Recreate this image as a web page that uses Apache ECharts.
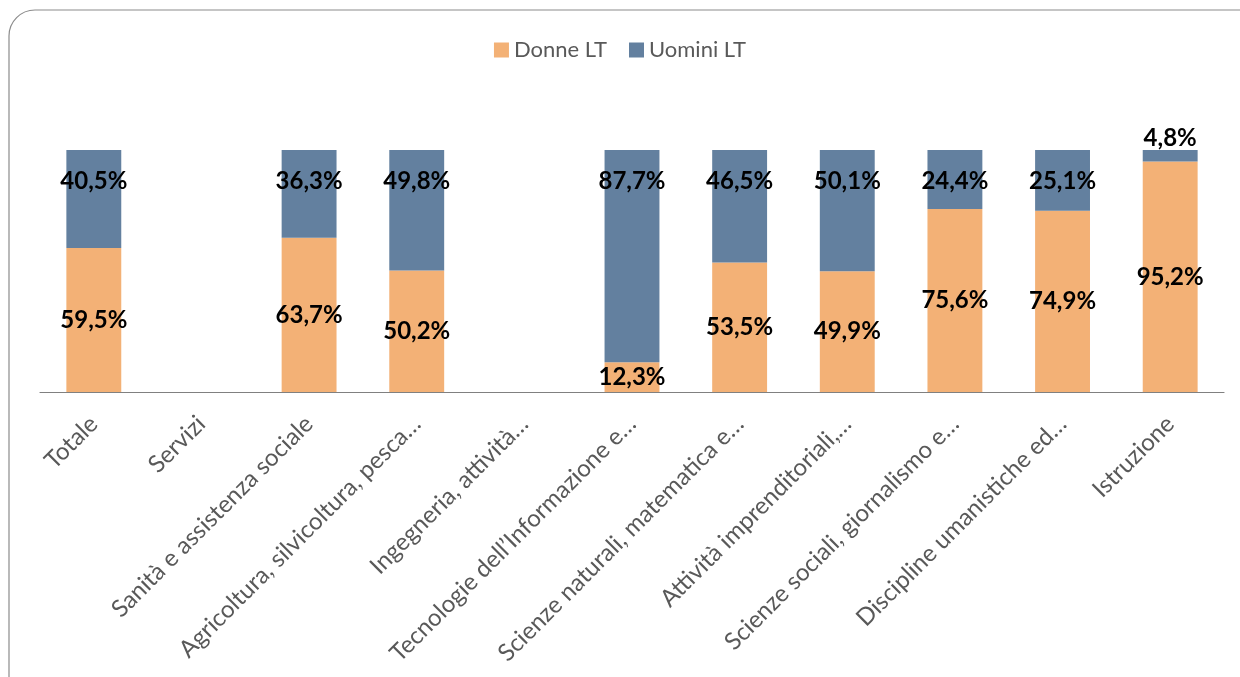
<!DOCTYPE html>
<html>
<head>
<meta charset="utf-8">
<script src="https://cdn.jsdelivr.net/npm/echarts@6/dist/echarts.min.js"></script>
<style>
  html, body { margin: 0; padding: 0; background: #fff; }
  #chart { width: 1240px; height: 677px; }
</style>
</head>
<body>
<div id="chart"></div>
<script>
const categories = [
    'Totale',
    'Servizi',
    'Sanità e assistenza sociale',
    'Agricoltura, silvicoltura, pesca…',
    'Ingegneria, attività…',
    'Tecnologie dell’Informazione e…',
    'Scienze naturali, matematica e…',
    'Attività imprenditoriali,…',
    'Scienze sociali, giornalismo e…',
    'Discipline umanistiche ed…',
    'Istruzione',
];
const donne = [59.5, null, 63.7, 50.2, null, 12.3, 53.5, 49.9, 75.6, 74.9, 95.2];
const uomini = [40.5, null, 36.3, 49.8, null, 87.7, 46.5, 50.1, 24.4, 25.1, 4.8];

const fontFamily = 'Lato, "Noto Sans", sans-serif';
const pct = (p) => p.value.toFixed(1).replace('.', ',') + '%';

const labelStyle = {
    show: true,
    formatter: pct,
    color: '#000',
    fontWeight: 'bold',
    fontSize: 24,
    fontFamily: fontFamily,
};

const option = {
    animation: false,
    graphic: [
        {
            type: 'rect',
            shape: { x: 9, y: 10, width: 1280, height: 720, r: 26 },
            style: { fill: 'none', stroke: '#8c8c8c', lineWidth: 1.2 },
            z: -1,
        },
    ],
    legend: {
        top: 34,
        left: 'center',
        itemWidth: 15,
        itemHeight: 15,
        itemGap: 22,
        itemTextGap: 4,
        icon: 'rect',
        textStyle: { color: '#595959', fontSize: 22, fontFamily: fontFamily },
    },
    grid: {
        left: 40,
        right: 16,
        top: 150,
        bottom: 285,
        containLabel: false,
        outerBoundsMode: 'none',
    },
    xAxis: {
        type: 'category',
        data: categories,
        axisTick: { show: false },
        axisLine: { lineStyle: { color: '#808080', width: 1.2 } },
        axisLabel: {
            rotate: 45,
            interval: 0,
            margin: 28,
            color: '#595959',
            fontSize: 24,
            fontFamily: fontFamily,
        },
    },
    yAxis: {
        type: 'value',
        min: 0,
        max: 100,
        show: false,
        splitLine: { show: false },
    },
    series: [
        {
            name: 'Donne LT',
            type: 'bar',
            stack: 'tot',
            barWidth: '51%',
            data: donne,
            itemStyle: { color: '#F3B176' },
            label: Object.assign({ position: 'inside' }, labelStyle),
        },
        {
            name: 'Uomini LT',
            type: 'bar',
            stack: 'tot',
            barWidth: '51%',
            data: uomini.map((v) =>
                v !== null && v < 10
                    ? { value: v, label: { position: 'top', distance: 0 } }
                    : v
            ),
            itemStyle: { color: '#63809F' },
            label: Object.assign({ position: 'insideTop', distance: 19 }, labelStyle),
        },
    ],
};

const chart = echarts.init(document.getElementById('chart'));
chart.setOption(option);
</script>
</body>
</html>
